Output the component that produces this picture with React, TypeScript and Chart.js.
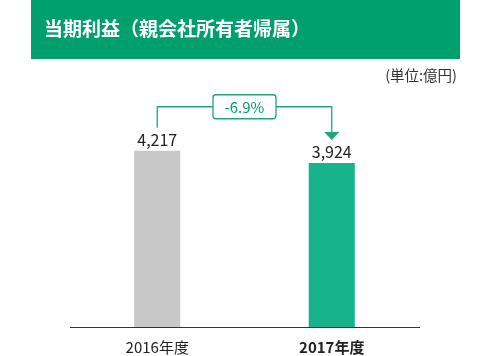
import React, { useEffect, useRef } from 'react';
import { Chart, registerables } from 'chart.js';
Chart.register(...registerables);

const categories = ['2016年度', '2017年度'];
const values = [4217, 3924];
const changeLabel = '-6.9%';
const titleText = '当期利益（親会社所有者帰属）';
const unitLabel = '(単位:億円)';
const barColors = ['#c8c8c8', '#17b38b'];

const FONT = '"Noto Sans CJK JP", "Noto Sans", sans-serif';
const GREEN = '#00a06e';
const LINE_GREEN = '#1ea57c';

const fmt = (v: number) => String(v).replace(/\B(?=(\d{3})+(?!\d))/g, ',');

export default function App() {
  const ref = useRef<HTMLCanvasElement>(null);
  useEffect(() => {
    document.body.style.margin = '0';
    const canvas = ref.current!;
    const headerPlugin = {
      id: 'header',
      beforeDraw(chart: any) {
        const { ctx } = chart;
        ctx.save();
        ctx.fillStyle = GREEN;
        ctx.fillRect(31, 0, 429, 59);
        ctx.fillStyle = '#fff';
        ctx.font = `bold 19px ${FONT}`;
        ctx.textBaseline = 'middle';
        ctx.textAlign = 'left';
        ctx.fillText(titleText, 44, 29);
        ctx.fillStyle = '#333';
        ctx.font = `14.5px ${FONT}`;
        ctx.textAlign = 'right';
        ctx.fillText(unitLabel, 457, 75);
        ctx.restore();
      },
    };
    const annotPlugin = {
      id: 'annot',
      afterDatasetsDraw(chart: any) {
        const meta = chart.getDatasetMeta(0);
        const ctx = chart.ctx;
        const xs = meta.data.map((b: any) => b.x);
        const ys = meta.data.map((b: any) => b.y);
        ctx.save();
        ctx.font = `16px ${FONT}`;
        ctx.fillStyle = '#222';
        ctx.textAlign = 'center';
        ctx.textBaseline = 'alphabetic';
        values.forEach((v, i) => ctx.fillText(fmt(v), xs[i], ys[i] - 5));

        const lineY = Math.min(ys[0], ys[1]) - 44;
        const cx = (xs[0] + xs[1]) / 2;
        const bw = 63, bh = 24;
        ctx.strokeStyle = LINE_GREEN;
        ctx.lineWidth = 1.3;
        ctx.beginPath();
        ctx.moveTo(xs[0], ys[0] - 23);
        ctx.lineTo(xs[0], lineY);
        ctx.lineTo(cx - bw / 2, lineY);
        ctx.moveTo(cx + bw / 2, lineY);
        ctx.lineTo(xs[1], lineY);
        ctx.lineTo(xs[1], ys[1] - 31);
        ctx.stroke();
        // arrow
        ctx.fillStyle = LINE_GREEN;
        ctx.beginPath();
        ctx.moveTo(xs[1] - 7.5, ys[1] - 31);
        ctx.lineTo(xs[1] + 7.5, ys[1] - 31);
        ctx.lineTo(xs[1], ys[1] - 23);
        ctx.closePath();
        ctx.fill();
        // box
        ctx.fillStyle = '#fff';
        ctx.beginPath();
        (ctx as any).roundRect(cx - bw / 2, lineY - bh / 2, bw, bh, 3);
        ctx.fill();
        ctx.stroke();
        ctx.fillStyle = GREEN;
        ctx.font = `15px ${FONT}`;
        ctx.textBaseline = 'middle';
        ctx.fillText(changeLabel, cx, lineY + 1);
        ctx.restore();
      },
    };
    const chart = new Chart(canvas, {
      type: 'bar',
      data: {
        labels: categories,
        datasets: [
          {
            data: values,
            backgroundColor: barColors,
            barPercentage: 0.264,
            categoryPercentage: 1,
          },
        ],
      },
      options: {
        animation: false,
        responsive: false,
        maintainAspectRatio: false,
        layout: { padding: { left: 70, right: 71, top: 118, bottom: 0 } },
        plugins: { legend: { display: false }, tooltip: { enabled: false }, title: { display: false } },
        scales: {
          x: {
            grid: { display: false, drawTicks: false },
            border: { display: true, color: '#333', width: 1 },
            ticks: {
              padding: 11,
              color: '#222',
              font: (c: any) => ({ family: FONT, size: 15, weight: c.index === 1 ? 'bold' : 'normal' }),
            },
            afterFit: (s: any) => {
              s.height = 29;
            },
          },
          y: { display: false, min: 0, max: 5000 },
        },
      },
      plugins: [headerPlugin, annotPlugin],
    } as any);
    return () => chart.destroy();
  }, []);
  return <canvas ref={ref} width={490} height={356} style={{ display: 'block' }} />;
}
